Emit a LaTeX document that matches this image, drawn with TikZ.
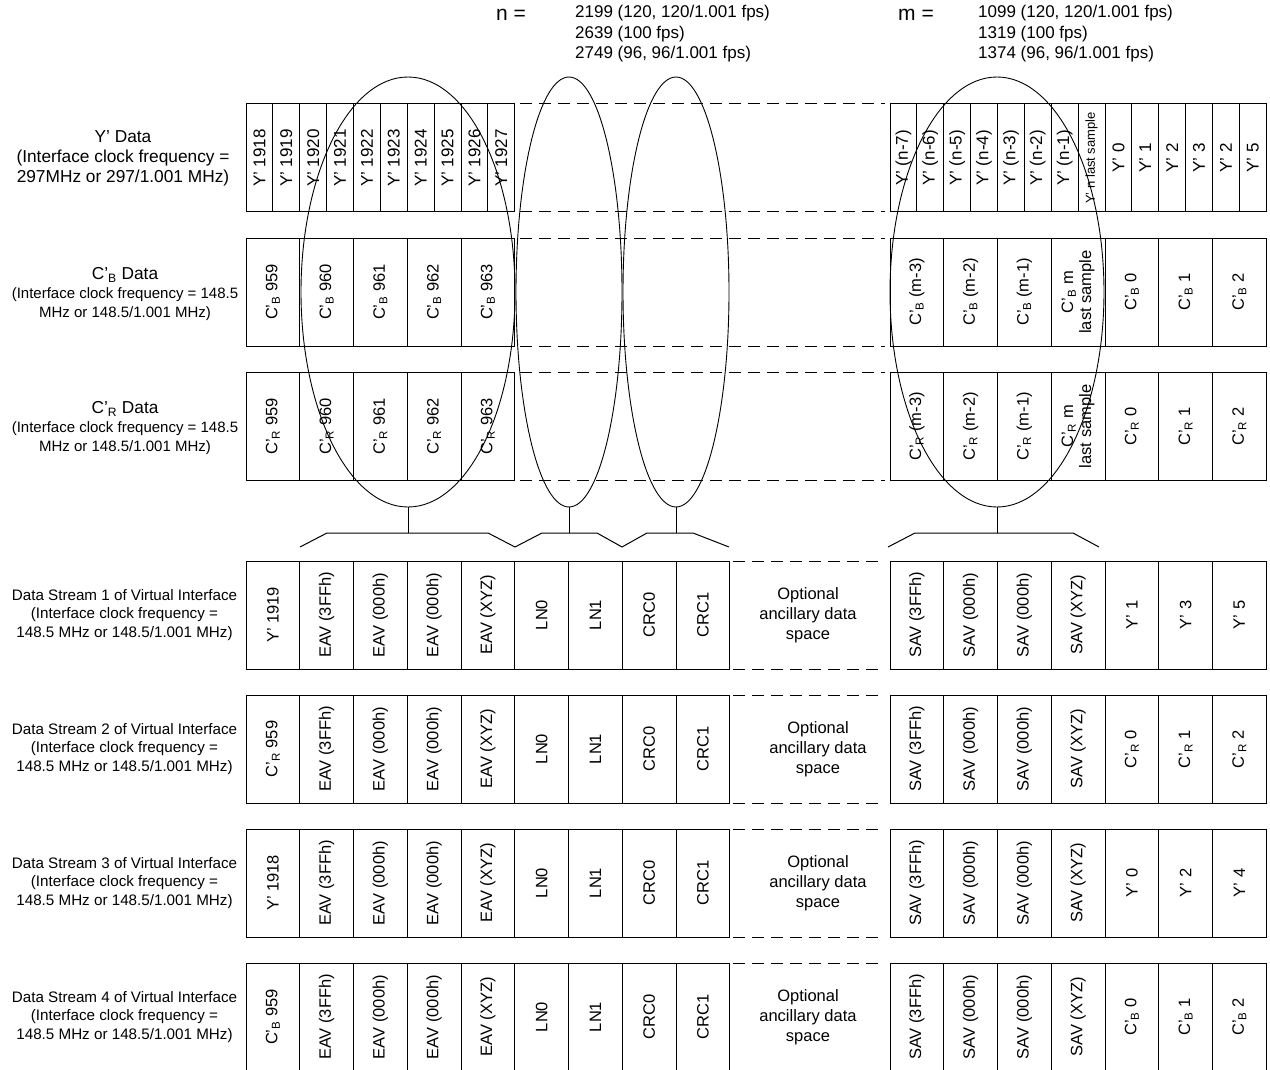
\documentclass[tikz,border=0pt]{standalone}
\usepackage{fontspec}
\setmainfont{Liberation Sans}
\usetikzlibrary{shapes.geometric}
\newcommand{\cbsym}{C’\textsubscript{B}}
\newcommand{\crsym}{C’\textsubscript{R}}

\begin{document}
\begin{tikzpicture}[x=1pt,y=-1pt,
  cellbox/.style={draw,line width=1pt,rotate=90,inner sep=0pt,minimum width=108pt,align=center,
    font=\fontsize{16.5}{18}\selectfont},
  ycell/.style={cellbox,minimum height=26.875pt,font=\fontsize{17}{18}\selectfont},
  wcell/.style={cellbox,minimum height=53.75pt},
  rowlabel/.style={align=center,inner sep=0pt},
  gapline/.style={line width=1pt,dash pattern=on 12pt off 7pt},
  ovgroup/.style={ellipse,draw,line width=0.9pt,inner sep=0pt,minimum height=430pt}]
  \useasboundingbox (0,0) rectangle (1270,1070);

  % n and m values
  \node[font=\fontsize{21}{24}\selectfont] (nhead) at (511,15) {n =};
  \node[anchor=west,align=left,inner sep=0pt,font=\fontsize{17}{20.5}\selectfont] (nvals) at (575,34)
    {2199 (120, 120/1.001 fps)\\2639 (100 fps)\\2749 (96, 96/1.001 fps)};
  \node[font=\fontsize{21}{24}\selectfont] (mhead) at (916,15) {m =};
  \node[anchor=west,align=left,inner sep=0pt,font=\fontsize{17}{20.5}\selectfont] (mvals) at (978,34)
    {1099 (120, 120/1.001 fps)\\1319 (100 fps)\\1374 (96, 96/1.001 fps)};

  % source data rows
  \node[rowlabel,font=\fontsize{15}{20}\selectfont] (lblY) at (123,158)
    {{\fontsize{17.3}{20}\selectfont Y’ Data}\\{\fontsize{17.3}{20}\selectfont (Interface clock frequency =}\\{\fontsize{17.3}{20}\selectfont 297MHz or 297/1.001 MHz)}};
  \node[rowlabel,font=\fontsize{15}{19}\selectfont] (lblCb) at (125,294)
    {{\fontsize{17.3}{19}\selectfont \cbsym{} Data}\\(Interface clock frequency = 148.5\\MHz or 148.5/1.001 MHz)};
  \node[rowlabel,font=\fontsize{15}{19}\selectfont] (lblCr) at (125,428)
    {{\fontsize{17.3}{19}\selectfont \crsym{} Data}\\(Interface clock frequency = 148.5\\MHz or 148.5/1.001 MHz)};

  \foreach \t [count=\i from 0] in {1918,1919,...,1927}
    \node[ycell] (yL\i) at ({246+26.875*(\i+0.5)},158) {Y’ \t};
  \foreach \t [count=\i from 0] in {(n-7),(n-6),(n-5),(n-4),(n-3),(n-2),(n-1)}
    \node[ycell] (yR\i) at ({890+26.875*(\i+0.5)},158) {Y’ \t};
  \node[ycell,font=\fontsize{13}{15}\selectfont] (yR7) at ({890+26.875*7.5},158) {Y’ n last sample};
  \foreach \t [count=\i from 8] in {0,1,2,3,2,5}
    \node[ycell] (yR\i) at ({890+26.875*(\i+0.5)},158) {Y’ \t};

  \foreach \t [count=\i from 0] in {959,960,...,963} {
    \node[wcell] (cbL\i) at ({246+53.75*(\i+0.5)},292) {\cbsym{} \t};
    \node[wcell] (crL\i) at ({246+53.75*(\i+0.5)},426.5) {\crsym{} \t};
  }
  \foreach \t [count=\i from 0] in {(m-3),(m-2),(m-1)} {
    \node[wcell] (cbR\i) at ({890+53.75*(\i+0.5)},292) {\cbsym{} \t};
    \node[wcell] (crR\i) at ({890+53.75*(\i+0.5)},426.5) {\crsym{} \t};
  }
  \node[wcell] (cbR3) at ({890+53.75*3.5},292) {\cbsym{} m\\last sample};
  \node[wcell] (crR3) at ({890+53.75*3.5},426.5) {\crsym{} m\\last sample};
  \foreach \t [count=\i from 4] in {0,1,2} {
    \node[wcell] (cbR\i) at ({890+53.75*(\i+0.5)},292) {\cbsym{} \t};
    \node[wcell] (crR\i) at ({890+53.75*(\i+0.5)},426.5) {\crsym{} \t};
  }
  \foreach \yy in {104,212,238,346,372.5,480.5}
    \draw[gapline] (520,\yy) -- (885,\yy);

  % groups picked out of the samples
  \node[ovgroup,minimum width=214pt] (ovEAV) at (408,292) {};
  \node[ovgroup,minimum width=106pt] (ovLN) at (569,292) {};
  \node[ovgroup,minimum width=106pt] (ovCRC) at (676,292) {};
  \node[ovgroup,minimum width=214pt] (ovSAV) at (997,292) {};
  \coordinate (kEAV) at (ovEAV.south |- 0,533);
  \coordinate (kLN) at (ovLN.south |- 0,533);
  \coordinate (kCRC) at (ovCRC.south |- 0,533);
  \coordinate (kSAV) at (ovSAV.south |- 0,533);
  \draw[line width=1pt] (ovEAV.south) -- (kEAV);
  \draw[line width=1pt] (ovLN.south) -- (kLN);
  \draw[line width=1pt] (ovCRC.south) -- (kCRC);
  \draw[line width=1pt] (ovSAV.south) -- (kSAV);
  \draw[line width=1pt] (300,547) -- (327,533) -- (kEAV) -- (488,533) -- (515,547)
    -- (542,533) -- (kLN) -- (597,533) -- (622,547)
    -- (647,533) -- (kCRC) -- (693,533) -- (729,547);
  \draw[line width=1pt] (888,547) -- (915,533) -- (kSAV) -- (1073,533) -- (1099,547);

  % virtual interface data streams
  \foreach \sn/\yc/\fst/\ea/\eb/\ec/\ox in {
    1/615/{Y’ 1919}/{Y’ 1}/{Y’ 3}/{Y’ 5}/808,
    2/749/{\crsym{} 959}/{\crsym{} 0}/{\crsym{} 1}/{\crsym{} 2}/818,
    3/883/{Y’ 1918}/{Y’ 0}/{Y’ 2}/{Y’ 4}/818,
    4/1017/{\cbsym{} 959}/{\cbsym{} 0}/{\cbsym{} 1}/{\cbsym{} 2}/808} {
    \node[rowlabel,font=\fontsize{15.2}{18.5}\selectfont] (lblS\sn) at (124.5,\yc)
      {Data Stream \sn\ of Virtual Interface\\(Interface clock frequency =\\148.5 MHz or 148.5/1.001 MHz)};
    \foreach \t [count=\i from 0] in {\fst,EAV (3FFh),EAV (000h),EAV (000h),EAV (XYZ),LN0,LN1,CRC0,CRC1}
      \node[wcell] (st\sn-L\i) at ({246+53.75*(\i+0.5)},\yc) {\t};
    \node[align=center,font=\fontsize{16.5}{20}\selectfont] (opt\sn) at (\ox,\yc)
      {Optional\\ancillary data\\space};
    \foreach \t [count=\i from 0] in {SAV (3FFh),SAV (000h),SAV (000h),SAV (XYZ),\ea,\eb,\ec}
      \node[wcell] (st\sn-R\i) at ({890+53.75*(\i+0.5)},\yc) {\t};
    \draw[gapline] (733,{\yc-54}) -- (884,{\yc-54});
    \draw[gapline] (733,{\yc+54}) -- (884,{\yc+54});
  }
\end{tikzpicture}
\end{document}
